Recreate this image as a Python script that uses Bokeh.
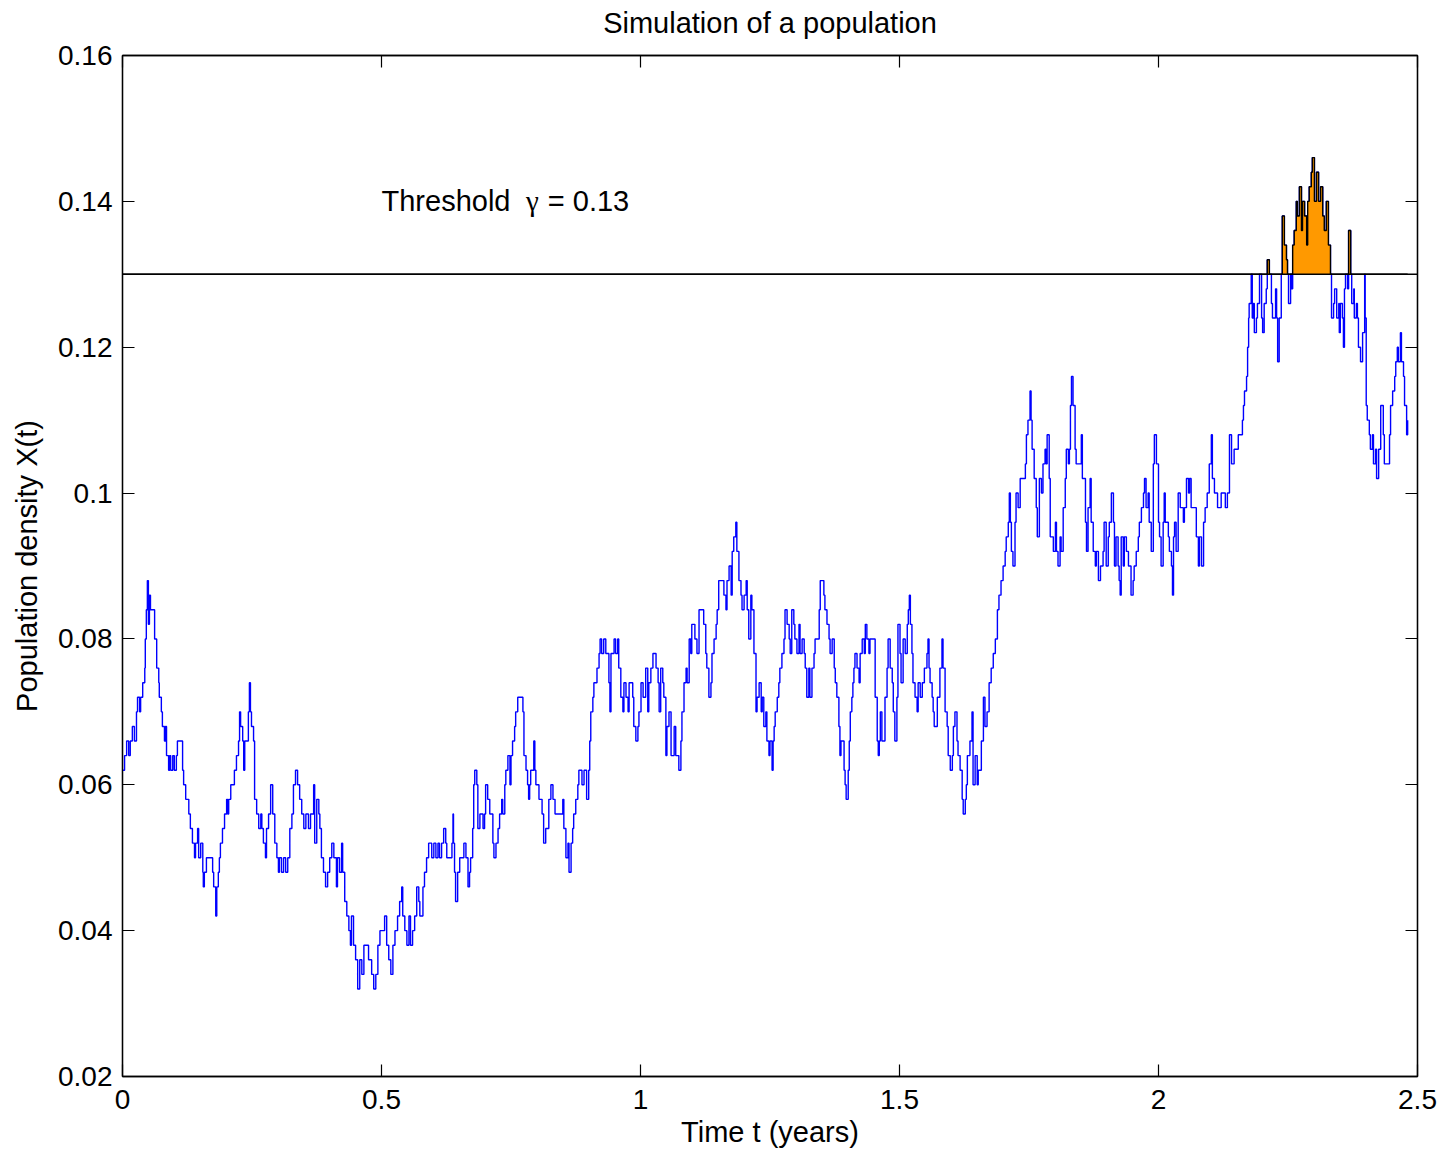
import numpy as np
from bokeh.plotting import figure
from bokeh.models import Range1d, LinearAxis, FixedTicker, Span, Label, CustomJSTickFormatter
from bokeh.embed import file_html
from bokeh.resources import INLINE

# ---------------- data ----------------
title_text = "Simulation of a population"
x_label = "Time t (years)"
y_label = "Population density X(t)"
threshold = 0.13
threshold_words = ["Threshold", "\u03b3", "= 0.13"]
threshold_word_x = [0.5, 0.779, 0.821]
threshold_text_y = 0.14

x_ticks = [0, 0.5, 1, 1.5, 2, 2.5]
x_tick_labels = ["0", "0.5", "1", "1.5", "2", "2.5"]
y_ticks = [0.02, 0.04, 0.06, 0.08, 0.1, 0.12, 0.14, 0.16]
y_tick_labels = ["0.02", "0.04", "0.06", "0.08", "0.1", "0.12", "0.14", "0.16"]

tA = [0.000,0.004,0.008,0.012,0.015,0.019,0.023,0.027,0.029,0.033,
      0.035,0.039,0.043,0.044,0.046,0.048,0.050,0.052,0.054,0.058,
      0.062,0.066,0.070,0.071,0.075,0.077,0.081,0.083,0.085,0.089,
      0.091,0.093,0.097,0.100,0.104,0.106,0.112,0.116,0.118,0.122,
      0.128,0.131,0.135,0.139,0.141,0.145,0.147,0.151,0.155,0.156,
      0.158,0.162,0.170,0.174,0.176,0.180,0.182,0.185,0.187,0.189,
      0.193,0.197,0.201,0.203,0.205]
xA = [0.062,0.064,0.066,0.064,0.066,0.068,0.066,0.070,0.072,0.070,
      0.072,0.074,0.076,0.080,0.084,0.088,0.082,0.086,0.084,0.084,
      0.080,0.076,0.074,0.072,0.070,0.068,0.066,0.068,0.064,0.062,
      0.064,0.062,0.064,0.062,0.064,0.066,0.066,0.062,0.060,0.058,
      0.056,0.054,0.052,0.050,0.052,0.054,0.050,0.052,0.048,0.046,
      0.048,0.050,0.050,0.048,0.046,0.042,0.046,0.048,0.050,0.052,
      0.054,0.056,0.058,0.056,0.058]

tB = [0.209,0.213,0.216,0.220,0.224,0.226,0.228,0.232,0.234,0.236,
      0.240,0.243,0.245,0.247,0.249,0.253,0.255,0.259,0.263,0.267,
      0.269,0.272,0.276,0.278,0.282,0.286,0.290,0.294,0.298,0.301,
      0.303,0.307,0.311,0.315,0.319,0.323,0.327,0.330,0.334,0.338,
      0.342,0.346,0.350,0.354,0.359,0.363,0.369,0.371,0.375,0.379,
      0.381,0.384,0.388,0.392,0.396,0.400,0.404,0.408,0.413]
xB = [0.060,0.060,0.062,0.064,0.066,0.070,0.068,0.066,0.062,0.066,
      0.066,0.070,0.074,0.070,0.068,0.066,0.058,0.056,0.054,0.056,
      0.054,0.052,0.050,0.054,0.056,0.060,0.056,0.052,0.050,0.048,
      0.050,0.048,0.050,0.048,0.050,0.054,0.056,0.060,0.062,0.060,
      0.058,0.056,0.054,0.056,0.054,0.056,0.060,0.052,0.058,0.056,
      0.054,0.050,0.048,0.046,0.048,0.050,0.052,0.050,0.046]

tC = [0.415,0.419,0.423,0.425,0.429,0.433,0.437,0.440,0.442,0.446,
      0.450,0.454,0.458,0.462,0.466,0.471,0.475,0.481,0.485,0.489,
      0.493,0.497,0.502,0.506,0.510,0.514,0.518,0.522,0.526,0.531,
      0.535,0.539,0.541,0.545,0.549,0.553,0.556,0.560,0.564,0.568,
      0.572,0.574,0.580,0.583,0.587,0.591,0.597,0.601,0.605,0.609,
      0.612,0.616,0.620]
xC = [0.050,0.048,0.052,0.048,0.044,0.042,0.040,0.038,0.042,0.038,
      0.036,0.032,0.036,0.034,0.038,0.038,0.036,0.034,0.032,0.034,
      0.038,0.040,0.040,0.042,0.038,0.036,0.034,0.038,0.040,0.042,
      0.044,0.046,0.042,0.040,0.038,0.042,0.038,0.040,0.042,0.046,
      0.044,0.042,0.046,0.048,0.050,0.052,0.050,0.052,0.050,0.052,
      0.050,0.052,0.054]

tD = [0.624,0.626,0.632,0.636,0.638,0.639,0.641,0.643,0.647,0.651,
      0.655,0.659,0.663,0.667,0.670,0.672,0.676,0.678,0.680,0.684,
      0.686,0.690,0.696,0.699,0.701,0.705,0.709,0.715,0.717,0.721,
      0.725,0.728,0.732,0.734,0.738,0.740,0.744,0.748,0.750,0.753,
      0.757,0.759,0.763,0.769,0.773,0.775,0.779,0.782,0.784,0.786,
      0.788,0.794,0.796,0.798,0.804,0.810,0.813,0.817,0.823,0.827]
xD = [0.052,0.050,0.050,0.052,0.056,0.052,0.048,0.044,0.048,0.050,
      0.050,0.052,0.050,0.046,0.048,0.050,0.054,0.060,0.062,0.060,
      0.054,0.056,0.054,0.056,0.060,0.058,0.056,0.052,0.050,0.052,
      0.054,0.056,0.058,0.056,0.060,0.062,0.064,0.060,0.064,0.066,
      0.068,0.070,0.072,0.072,0.070,0.064,0.062,0.060,0.058,0.060,
      0.062,0.066,0.062,0.060,0.058,0.056,0.052,0.054,0.058,0.060]

tE = [0.831,0.835,0.846,0.850,0.852,0.856,0.860,0.862,0.866,0.869,
      0.871,0.875,0.879,0.881,0.887,0.891,0.896,0.900,0.902,0.904,
      0.908,0.910,0.916,0.920,0.922,0.925,0.929,0.933,0.939,0.941,
      0.943,0.949,0.952,0.956,0.958,0.962,0.966,0.968,0.972,0.976,
      0.978,0.985,0.987,0.991,0.995,0.997,1.001,1.005,1.010,1.014,
      1.016,1.020,1.024,1.030,1.034,1.036,1.039]
xE = [0.058,0.056,0.056,0.058,0.054,0.050,0.052,0.048,0.052,0.054,
      0.056,0.058,0.060,0.062,0.060,0.062,0.058,0.062,0.066,0.070,
      0.072,0.074,0.076,0.078,0.080,0.078,0.080,0.078,0.074,0.070,
      0.078,0.080,0.078,0.080,0.076,0.072,0.070,0.074,0.072,0.070,
      0.074,0.072,0.068,0.066,0.068,0.070,0.074,0.072,0.076,0.070,
      0.074,0.076,0.078,0.076,0.074,0.070,0.076]

tF = [1.043,1.045,1.049,1.051,1.055,1.059,1.065,1.068,1.072,1.074,
      1.078,1.080,1.084,1.088,1.090,1.094,1.097,1.099,1.105,1.109,
      1.113,1.119,1.122,1.126,1.128,1.132,1.136,1.138,1.142,1.146,
      1.148,1.151,1.157,1.161,1.165,1.167,1.171,1.175,1.177,1.180,
      1.184,1.186,1.190,1.194,1.196,1.200,1.204,1.206,1.209,1.213,
      1.215,1.219,1.223,1.225,1.229,1.233,1.235,1.238,1.242,1.244,
      1.248]
xF = [0.074,0.072,0.064,0.068,0.070,0.064,0.068,0.064,0.064,0.062,
      0.066,0.070,0.074,0.076,0.074,0.080,0.078,0.082,0.080,0.078,
      0.084,0.084,0.082,0.078,0.076,0.072,0.074,0.078,0.080,0.082,
      0.084,0.088,0.088,0.086,0.084,0.088,0.090,0.086,0.092,0.094,
      0.096,0.092,0.088,0.086,0.084,0.086,0.088,0.084,0.080,0.086,
      0.084,0.078,0.070,0.072,0.074,0.070,0.072,0.068,0.070,0.066,
      0.064]

tG = [1.250,1.254,1.256,1.258,1.260,1.264,1.267,1.269,1.273,1.277,
      1.279,1.283,1.287,1.289,1.292,1.296,1.298,1.302,1.306,1.308,
      1.312,1.316,1.318,1.321,1.325,1.327,1.331,1.335,1.337,1.345,
      1.347,1.352,1.354,1.356,1.360,1.364,1.366,1.370,1.374,1.376,
      1.379,1.383,1.385,1.387,1.393,1.395,1.397,1.401,1.403,1.405,
      1.408,1.410,1.412,1.414,1.418,1.422,1.424,1.428,1.432,1.434,
      1.437,1.441,1.443,1.449,1.453,1.457,1.459]
xG = [0.066,0.062,0.066,0.068,0.070,0.072,0.074,0.076,0.078,0.080,
      0.084,0.082,0.080,0.078,0.084,0.082,0.080,0.078,0.082,0.078,
      0.080,0.078,0.076,0.072,0.076,0.072,0.076,0.078,0.080,0.084,
      0.088,0.088,0.086,0.084,0.082,0.080,0.078,0.080,0.076,0.074,
      0.072,0.068,0.064,0.066,0.062,0.060,0.058,0.062,0.066,0.070,
      0.072,0.074,0.076,0.078,0.076,0.074,0.078,0.080,0.078,0.082,
      0.080,0.078,0.080,0.080,0.072,0.066,0.064]

tH = [1.461,1.463,1.466,1.472,1.476,1.478,1.482,1.486,1.488,1.491,
      1.495,1.497,1.501,1.503,1.507,1.511,1.515,1.517,1.519,1.521,
      1.524,1.526,1.530,1.534,1.536,1.540,1.544,1.548,1.553,1.555,
      1.557,1.559,1.563,1.565,1.567,1.573,1.578,1.582,1.584,1.588,
      1.592,1.594,1.598,1.602,1.604,1.607,1.611,1.613,1.617,1.621,
      1.623,1.627,1.629,1.631,1.636,1.640,1.642,1.646,1.650,1.652,
      1.658,1.662,1.665,1.669]
xH = [0.066,0.070,0.066,0.072,0.076,0.080,0.076,0.074,0.070,0.066,
      0.072,0.082,0.078,0.074,0.080,0.078,0.082,0.084,0.086,0.082,
      0.078,0.074,0.072,0.070,0.074,0.072,0.074,0.076,0.078,0.080,
      0.076,0.074,0.072,0.070,0.068,0.072,0.076,0.080,0.076,0.070,
      0.068,0.064,0.062,0.064,0.068,0.070,0.066,0.064,0.062,0.058,
      0.056,0.058,0.060,0.064,0.066,0.070,0.060,0.064,0.060,0.062,
      0.066,0.072,0.068,0.070]

tI = [1.673,1.677,1.681,1.685,1.689,1.692,1.696,1.700,1.704,1.706,
      1.710,1.712,1.714,1.716,1.719,1.723,1.725,1.729,1.733,1.739,
      1.743,1.745,1.748,1.752,1.754,1.756,1.760,1.764,1.766,1.770,
      1.774,1.777,1.781,1.783,1.785,1.789,1.791,1.797,1.801,1.803,
      1.806,1.810,1.812,1.816,1.820,1.822,1.826,1.828,1.830,1.832,
      1.835,1.839,1.841,1.849,1.851,1.853,1.859,1.861,1.864,1.868,
      1.870,1.874,1.878]
xI = [0.074,0.076,0.078,0.080,0.084,0.086,0.088,0.090,0.092,0.094,
      0.096,0.100,0.096,0.092,0.090,0.096,0.100,0.098,0.102,0.102,
      0.104,0.108,0.110,0.114,0.110,0.106,0.102,0.098,0.094,0.102,
      0.100,0.104,0.106,0.104,0.108,0.102,0.094,0.092,0.096,0.092,
      0.090,0.094,0.092,0.098,0.102,0.106,0.104,0.106,0.112,0.116,
      0.112,0.106,0.104,0.104,0.108,0.102,0.096,0.092,0.098,0.102,
      0.096,0.092,0.090]

tJ = [1.880,1.884,1.888,1.893,1.895,1.899,1.903,1.905,1.909,1.913,
      1.915,1.918,1.922,1.924,1.926,1.928,1.932,1.934,1.938,1.942,
      1.944,1.947,1.951,1.953,1.957,1.961,1.963,1.967,1.971,1.973,
      1.976,1.980,1.982,1.986,1.990,1.992,1.996,2.000,2.002,2.005,
      2.009,2.011,2.013,2.019,2.021,2.025,2.027,2.029,2.031,2.034,
      2.038,2.042,2.048,2.050,2.054,2.058,2.060,2.063,2.069,2.073,
      2.077,2.079,2.083,2.087]
xJ = [0.092,0.088,0.090,0.092,0.096,0.090,0.094,0.096,0.100,0.096,
      0.090,0.094,0.090,0.088,0.086,0.094,0.090,0.094,0.092,0.090,
      0.090,0.086,0.088,0.090,0.092,0.094,0.096,0.098,0.100,0.102,
      0.098,0.100,0.096,0.092,0.104,0.108,0.104,0.096,0.094,0.090,
      0.096,0.100,0.096,0.094,0.092,0.090,0.086,0.094,0.096,0.092,
      0.100,0.098,0.096,0.098,0.102,0.100,0.102,0.098,0.098,0.094,
      0.090,0.094,0.090,0.096]

tK = [2.090,2.094,2.098,2.102,2.104,2.108,2.114,2.121,2.129,2.133,
      2.137,2.141,2.146,2.150,2.154,2.160,2.162,2.164,2.166,2.170,
      2.172,2.174,2.175,2.179,2.181,2.183,2.185,2.189,2.191,2.195,
      2.199,2.201,2.204,2.208,2.210,2.214,2.218,2.220,2.226,2.228,
      2.230,2.233,2.237,2.239,2.243,2.247,2.249,2.251,2.255,2.257,
      2.259,2.262,2.266,2.268,2.272,2.276,2.278,2.282,2.286,2.288,
      2.291,2.295,2.297,2.301]
xK = [0.098,0.100,0.104,0.108,0.102,0.100,0.098,0.100,0.098,0.100,
      0.108,0.104,0.106,0.106,0.108,0.108,0.110,0.112,0.114,0.116,
      0.120,0.124,0.126,0.130,0.124,0.126,0.122,0.124,0.126,0.130,
      0.124,0.122,0.126,0.128,0.132,0.130,0.126,0.124,0.128,0.124,
      0.118,0.124,0.130,0.138,0.134,0.132,0.130,0.126,0.130,0.128,
      0.134,0.136,0.140,0.138,0.142,0.136,0.140,0.138,0.134,0.140,
      0.142,0.144,0.146,0.140]

tL = [2.305,2.309,2.313,2.317,2.320,2.324,2.328,2.332,2.334,2.338,
      2.340,2.344,2.348,2.349,2.351,2.355,2.357,2.359,2.361,2.365,
      2.367,2.371,2.373,2.377,2.378,2.382,2.384,2.386,2.390,2.394,
      2.398,2.399,2.401,2.403,2.407,2.409,2.413,2.415,2.419,2.421,
      2.425,2.429,2.432,2.434,2.436,2.440,2.446,2.448,2.452,2.456,
      2.458,2.461,2.463,2.467,2.469,2.473,2.475,2.479,2.481]
xL = [0.144,0.140,0.142,0.138,0.136,0.140,0.134,0.130,0.124,0.126,
      0.128,0.124,0.126,0.122,0.126,0.124,0.120,0.128,0.130,0.128,
      0.136,0.130,0.126,0.128,0.124,0.126,0.124,0.120,0.118,0.122,
      0.130,0.124,0.112,0.110,0.108,0.106,0.108,0.104,0.106,0.102,
      0.106,0.112,0.112,0.108,0.104,0.104,0.108,0.112,0.114,0.116,
      0.118,0.120,0.118,0.122,0.118,0.116,0.112,0.108,0.110]

# ---------------- assemble ----------------
t_parts = [tA, tB, tC, tD, tE, tF, tG, tH, tI, tJ, tK, tL]
x_parts = [xA, xB, xC, xD, xE, xF, xG, xH, xI, xJ, xK, xL]
t_list, x_list = [], []
for tp, xp in zip(t_parts, x_parts):
    m = min(len(tp), len(xp))
    t_list += tp[:m]
    x_list += xp[:m]
t = np.array(t_list)
X = np.array(x_list)
above = np.maximum(X, threshold)

FONT = "Liberation Sans"

p = figure(width=1443, height=1151,
           x_range=Range1d(x_ticks[0], x_ticks[-1]),
           y_range=Range1d(y_ticks[0], y_ticks[-1]),
           output_backend="svg", toolbar_location=None,
           min_border_left=122, min_border_right=26,
           min_border_top=55, min_border_bottom=75)
p.background_fill_color = "white"
p.border_fill_color = "white"
p.outline_line_color = "black"
p.outline_line_width = 1.3
p.xgrid.visible = False
p.ygrid.visible = False

# series
p.step(t, X, mode="after", line_color="#0000FF", line_width=1.4)
p.varea_step(x=t, y1=np.full(len(t), threshold), y2=above,
             step_mode="after", fill_color="#FF9900")
p.step(t, above, mode="after", line_color="black", line_width=1.4)
p.add_layout(Span(location=threshold, dimension="width",
                  line_color="black", line_width=1.4))

word_fonts = [FONT, "Liberation Serif", FONT]
for word, wx, wf in zip(threshold_words, threshold_word_x, word_fonts):
    p.add_layout(Label(x=wx, y=threshold_text_y, text=word,
                       text_baseline="middle", text_align="left",
                       text_font=wf, text_font_size="29px",
                       text_color="black"))


def style_axis(ax, ticks, labels=None):
    ax.ticker = FixedTicker(ticks=ticks)
    ax.major_tick_in = 12
    ax.major_tick_out = 0
    ax.minor_tick_in = 0
    ax.minor_tick_out = 0
    ax.major_tick_line_color = "black"
    ax.major_tick_line_width = 1.2
    ax.axis_line_color = "black"
    ax.axis_line_width = 1.3
    ax.major_label_text_font = FONT
    ax.major_label_text_font_size = "28px"
    ax.major_label_text_color = "black"
    ax.axis_label_text_font = FONT
    ax.axis_label_text_font_size = "29px"
    ax.axis_label_text_font_style = "normal"
    ax.axis_label_text_color = "black"
    if labels is not None:
        ax.major_label_overrides = dict(zip(ticks, labels))


xa = p.xaxis[0]
style_axis(xa, x_ticks, x_tick_labels)
xa.axis_label = x_label
xa.major_label_standoff = 13
xa.axis_label_standoff = 4

ya = p.yaxis[0]
style_axis(ya, y_ticks, y_tick_labels)
ya.axis_label = y_label
ya.major_label_standoff = 10
ya.axis_label_standoff = 12

# top axis: inner ticks only, carries the chart title as its label
top_ax = LinearAxis()
style_axis(top_ax, x_ticks)
top_ax.formatter = CustomJSTickFormatter(code="return ''")
top_ax.major_label_standoff = 0
top_ax.axis_label = title_text
top_ax.axis_label_standoff = 17
p.add_layout(top_ax, "above")

right_ax = LinearAxis()
style_axis(right_ax, y_ticks)
right_ax.formatter = CustomJSTickFormatter(code="return ''")
right_ax.major_label_standoff = 0
p.add_layout(right_ax, "right")

open("out.html", "w").write(file_html(p, INLINE))
